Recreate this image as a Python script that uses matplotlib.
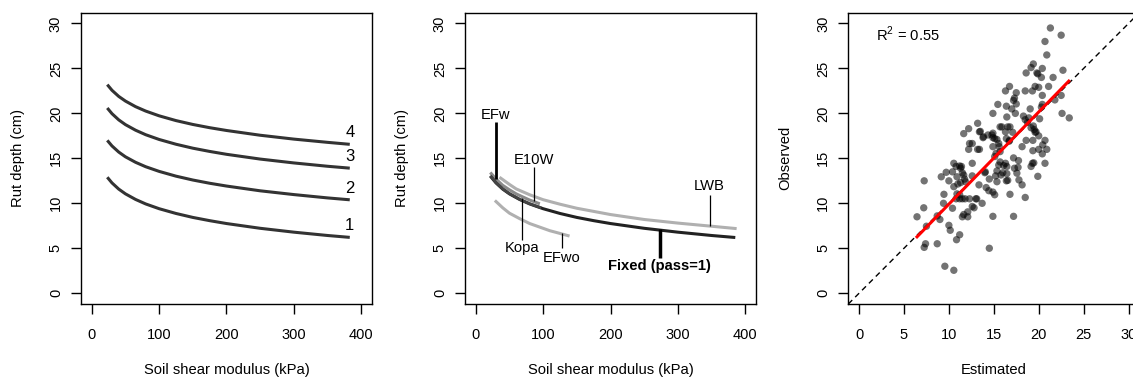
import numpy as np
import matplotlib.pyplot as plt

plt.rcParams['font.family'] = ['Liberation Sans', 'DejaVu Sans']
plt.rcParams['mathtext.fontset'] = 'custom'
plt.rcParams['mathtext.rm'] = 'Liberation Sans'

# --- panel 1: rut depth by pass number ---
modulus = [23, 30, 40, 50, 65, 80, 100, 125, 150, 175, 200, 250, 300, 350, 383]
rut_pass1 = [12.9, 12.27, 11.58, 11.05, 10.43, 9.93, 9.40, 8.87, 8.43, 8.07, 7.75, 7.22, 6.79, 6.42, 6.21]
rut_pass2 = [17.0, 16.38, 15.70, 15.17, 14.56, 14.07, 13.55, 13.02, 12.59, 12.23, 11.92, 11.39, 10.97, 10.60, 10.39]
rut_pass3 = [20.6, 19.97, 19.28, 18.75, 18.13, 17.63, 17.10, 16.57, 16.13, 15.77, 15.45, 14.92, 14.49, 14.12, 13.91]
rut_pass4 = [23.2, 22.57, 21.89, 21.37, 20.75, 20.26, 19.73, 19.20, 18.77, 18.41, 18.10, 17.57, 17.14, 16.78, 16.56]
pass_labels = ['1', '2', '3', '4']

# --- panel 2: other models vs fixed model (pass=1) ---
lwb_x = [37, 50, 60, 80, 100, 125, 150, 200, 250, 300, 350, 385]
lwb_y = [12.8, 12.1, 11.6, 10.95, 10.4, 9.9, 9.45, 8.75, 8.2, 7.8, 7.45, 7.2]
e10w_x = [23, 30, 40, 50, 60, 70, 80, 93]
e10w_y = [13.3, 12.7, 12.0, 11.5, 11.05, 10.7, 10.36, 10.0]
efwo_x = [30, 40, 50, 65, 80, 95, 110, 125, 137]
efwo_y = [10.2, 9.5, 8.9, 8.3, 7.75, 7.35, 6.95, 6.65, 6.4]
kopa_x = [23, 30, 40, 50, 65, 80, 95]
kopa_y = [12.95, 12.3, 11.6, 11.07, 10.45, 9.95, 9.55]

# --- panel 3: observed vs estimated ---
estimated = [21.3, 22.5, 20.7, 20.9, 19.4, 18.6, 19.15, 19.8, 19.9, 20.4, 20.3, 22.7, 21.6, 21.1, 22.5,
             21.8, 20.4, 20.0, 19.6, 19.3, 18.5, 17.5, 16.75, 16.3, 17.3, 17.2, 17.5, 17.0, 16.4, 15.45,
             14.9, 16.45, 17.4, 19.05, 20.3, 20.4, 22.6, 23.4, 18.3, 18.5, 18.9, 19.5, 19.4, 19.6, 20.1,
             20.0, 19.7, 19.15, 18.6, 19.35, 20.7, 20.45, 20.9, 20.4, 20.0, 19.35, 20.7, 19.3, 19.45, 19.15,
             19.9, 18.15, 17.75, 17.7, 17.3, 17.57, 17.8, 18.15, 18.5, 17.2, 17.2, 16.8, 16.4, 16.55, 16.45,
             16.45, 16.1, 16.3, 15.7, 15.55, 15.35, 15.8, 15.2, 15.35, 16.0, 15.6, 15.7, 15.7, 15.9, 16.55,
             16.8, 16.3, 16.4, 16.75, 15.35, 14.9, 14.8, 14.9, 15.1, 15.25, 14.9, 14.5, 14.45, 14.9, 15.1,
             14.9, 14.5, 14.15, 14.0, 14.05, 13.7, 13.35, 13.4, 13.2, 13.2, 13.4, 13.85, 12.6, 12.6, 12.2,
             12.3, 12.2, 11.65, 11.85, 13.0, 13.1, 12.6, 12.8, 12.1, 12.1, 11.5, 11.65, 11.4, 11.2, 11.3,
             11.5, 11.65, 11.75, 11.3, 11.0, 10.9, 10.55, 10.8, 10.4, 10.55, 10.8, 11.2, 11.5, 11.8, 12.3,
             10.9, 11.2, 10.0, 9.7, 9.15, 9.45, 9.4, 10.4, 10.0, 10.15, 11.2, 10.85, 9.0, 8.7, 8.7,
             7.5, 7.25, 7.2, 6.45, 7.4, 7.25, 9.55, 10.55, 14.35, 18.75, 12.6, 13.5, 13.8, 15.1, 16.7,
             17.1, 15.55]
observed = [29.5, 28.7, 28.0, 26.5, 25.5, 24.5, 25.1, 24.5, 24.4, 25.0, 24.0, 24.8, 24.0, 23.0, 22.0,
            21.5, 22.0, 22.9, 23.0, 22.5, 22.5, 22.3, 23.0, 22.5, 21.7, 21.45, 21.05, 20.5, 20.8, 21.0,
            20.0, 19.6, 20.0, 20.5, 20.7, 21.0, 20.0, 19.5, 19.7, 19.3, 19.5, 18.2, 18.6, 17.9, 19.4,
            17.5, 17.95, 18.4, 17.0, 17.0, 17.0, 16.5, 16.0, 15.5, 16.0, 15.85, 14.45, 14.45, 14.5, 14.1,
            13.0, 16.3, 14.75, 14.0, 13.9, 13.35, 12.6, 12.05, 10.65, 15.05, 8.55, 11.0, 12.5, 12.55, 13.3,
            14.1, 14.2, 14.45, 14.6, 14.25, 13.6, 13.15, 13.05, 12.4, 13.4, 16.3, 15.75, 18.5, 18.5, 18.5,
            18.5, 17.95, 17.2, 17.0, 17.1, 17.8, 17.6, 17.3, 15.2, 15.55, 16.3, 12.7, 11.4, 11.25, 10.95,
            8.55, 5.0, 11.75, 13.4, 13.5, 10.0, 12.05, 16.0, 16.0, 18.9, 17.95, 17.4, 14.45, 13.05, 18.3,
            16.65, 16.0, 17.75, 12.4, 10.5, 10.5, 9.65, 9.5, 9.05, 8.5, 8.5, 8.75, 14.1, 14.15, 13.9,
            13.4, 13.15, 12.7, 12.3, 12.15, 12.95, 14.45, 14.1, 13.5, 11.85, 10.5, 10.5, 10.5, 10.5, 10.5,
            11.05, 10.95, 12.5, 13.45, 12.95, 11.0, 10.0, 9.45, 7.55, 7.0, 6.5, 5.95, 8.2, 8.6, 5.5,
            7.45, 12.5, 9.5, 8.5, 5.5, 5.1, 3.0, 2.55, 17.6, 19.0, 16.65, 18.0, 17.3, 17.2, 16.9,
            17.9, 16.65]
fit_x = [6.45, 23.35]
fit_y = [6.27, 23.59]


def style_axes(ax, xlim, ylim, xticks, yticks, xlabel, ylabel):
    ax.set_xlim(*xlim)
    ax.set_ylim(*ylim)
    ax.set_xticks(xticks)
    ax.set_yticks(yticks)
    ax.tick_params(direction='out', length=7, width=1, labelsize=10.5)
    ax.tick_params(axis='x', pad=10)
    ax.tick_params(axis='y', pad=6)
    for lab in ax.get_yticklabels():
        lab.set_rotation(90)
        lab.set_va('center')
    for sp in ax.spines.values():
        sp.set_linewidth(1.0)
    ax.set_xlabel(xlabel, fontsize=10.6)
    ax.set_ylabel(ylabel, fontsize=10.6)
    ax.xaxis.set_label_coords(0.5, -0.227)
    ax.xaxis.label.set_va('center')
    ax.yaxis.set_label_coords(-0.217, 0.5)
    ax.yaxis.label.set_va('center')


W, H = 1133, 379
fig = plt.figure(figsize=(W / 100, H / 100), dpi=100)
ax_w, ax_h, ax_b = 291 / W, 291.3 / H, 75 / H
ax1 = fig.add_axes([81 / W, ax_b, ax_w, ax_h])
ax2 = fig.add_axes([465 / W, ax_b, ax_w, ax_h])
ax3 = fig.add_axes([848.3 / W, ax_b, ax_w, ax_h])

# panel 1
for ys, lab in zip([rut_pass1, rut_pass2, rut_pass3, rut_pass4], pass_labels):
    ax1.plot(modulus, ys, color='#333333', lw=2.2, solid_capstyle='butt')
    ax1.text(modulus[-1], ys[-1] + 1.3, lab, ha='center', va='center', fontsize=12)
style_axes(ax1, (-16, 416), (-1.2, 31.2), range(0, 401, 100), range(0, 31, 5),
           'Soil shear modulus (kPa)', 'Rut depth (cm)')

# panel 2
ax2.plot(lwb_x, lwb_y, color='#b0b0b0', lw=2.2)
ax2.plot(efwo_x, efwo_y, color='#b0b0b0', lw=2.2)
ax2.plot(e10w_x, e10w_y, color='#8a8a8a', lw=2.2)
ax2.plot(modulus, rut_pass1, color='#222222', lw=2.2)
ax2.plot(kopa_x, kopa_y, color='#444444', lw=2.0)

# label text, anchor x, anchor y, pointer x, pointer top, pointer bottom, line width, bold
notes = [
    ('EFw', 29.6, 19.8, 30, 19.0, 12.7, 2.0, False),
    ('E10W', 86.4, 14.8, 86.4, 14.0, 10.3, 0.9, False),
    ('Kopa', 68.0, 5.05, 68.0, 10.6, 5.9, 0.9, False),
    ('EFwo', 127.4, 3.95, 127.4, 6.7, 5.0, 0.9, False),
    ('LWB', 347.0, 11.87, 347.0, 10.95, 7.45, 0.9, False),
    ('Fixed (pass=1)', 273.0, 3.02, 273.0, 7.1, 3.95, 2.5, True),
]
for txt, tx, ty, px, y0, y1, lw, bold in notes:
    ax2.plot([px, px], [y0, y1], color='black', lw=lw, solid_capstyle='butt')
    ax2.text(tx, ty, txt, ha='center', va='center', fontsize=10.6,
             fontweight='bold' if bold else 'normal')
style_axes(ax2, (-16, 416), (-1.2, 31.2), range(0, 401, 100), range(0, 31, 5),
           'Soil shear modulus (kPa)', 'Rut depth (cm)')

# panel 3
ax3.axline((0, 0), slope=1, color='black', lw=1.0, dashes=(4, 3))
ax3.scatter(estimated, observed, s=28, color='black', alpha=0.55, edgecolors='none', zorder=3)
ax3.plot(fit_x, fit_y, color='red', lw=2.2, zorder=4)
ax3.text(1.9, 28.8, r'R$^2$ = 0.55', ha='left', va='center', fontsize=10.6)
style_axes(ax3, (-1.2, 31.2), (-1.2, 31.2), range(0, 31, 5), range(0, 31, 5),
           'Estimated', 'Observed')

fig.savefig('out.png', dpi=100)
